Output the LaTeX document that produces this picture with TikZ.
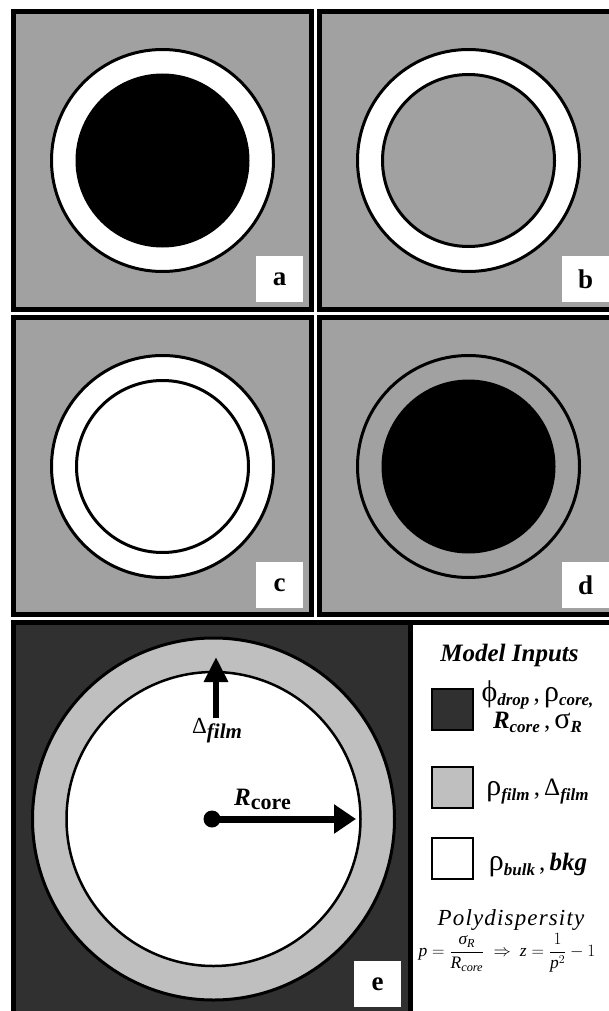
\documentclass[tikz,border=0pt]{standalone}
\usepackage{fontspec}
\usepackage{amsmath}
\setmainfont{Liberation Serif}
\usetikzlibrary{arrows.meta}
\definecolor{panelgray}{gray}{0.63}
\definecolor{filmgray}{gray}{0.75}
\definecolor{darkbg}{gray}{0.19}
% lowered bold-italic / bold subscript: size, drop, text
\newcommand{\sbi}[3]{\raisebox{-#2}{\fontsize{#1}{#1}\selectfont\bfseries\itshape #3}}
\newcommand{\sbf}[3]{\raisebox{-#2}{\fontsize{#1}{#1}\selectfont\bfseries #3}}
% enlarged greek symbol
\newcommand{\gk}[1]{{\fontsize{30}{30}\selectfont #1}}
\begin{document}
\begin{tikzpicture}[x=1pt,y=-1pt,
  panel/.style={draw=black, line width=5pt},
  ring/.style={circle, draw=black, line width=3pt, inner sep=0pt, minimum size=222pt},
  solidcore/.style={circle, inner sep=0pt, minimum size=174pt, fill=black},
  shellcore/.style={circle, draw=black, line width=3pt, inner sep=0pt, minimum size=172pt},
  tag/.style={fill=white, minimum width=47pt, minimum height=46pt, inner sep=0pt,
    font=\fontsize{27}{27}\selectfont\bfseries},
  swatch/.style={draw=black, line width=2pt, minimum size=41pt, inner sep=0pt},
  legendtxt/.style={inner sep=0pt, anchor=base, font=\fontsize{25}{25}\selectfont}
]
\useasboundingbox (0,0) rectangle (609,1011);
\clip (0,0) rectangle (609,1011);

% panel a: dark core, white shell
\draw[panel, fill=panelgray] (13.5,11.5) rectangle (311.5,309.5);
\node[ring, fill=white] (ringA) at (162.5,160.5) {};
\node[solidcore] (coreA) at (ringA) {};
\node[tag] (tagA) at (279.5,279) {a};

% panel b: matched core, white shell
\draw[panel, fill=panelgray] (319.5,11.5) rectangle (617.5,309.5);
\node[ring, fill=white] (ringB) at (468.5,160.5) {};
\node[shellcore, fill=panelgray] (coreB) at (ringB) {};
\node[tag] (tagB) at (585.5,279) {b};

% panel c: white core, white shell
\draw[panel, fill=panelgray] (13.5,317.5) rectangle (311.5,614.5);
\node[ring, fill=white] (ringC) at (162.5,466.5) {};
\node[shellcore, fill=white] (coreC) at (ringC) {};
\node[tag] (tagC) at (279.5,585) {c};

% panel d: dark core, matched shell
\draw[panel, fill=panelgray] (319.5,317.5) rectangle (617.5,614.5);
\node[ring, fill=panelgray] (ringD) at (468.5,466.5) {};
\node[solidcore] (coreD) at (ringD) {};
\node[tag] (tagD) at (585.5,585) {d};

% panel e: model geometry
\draw[panel, fill=darkbg] (13.5,622.5) rectangle (410.5,1030);
\draw[panel, fill=white] (410.5,622.5) rectangle (640,1030);
\node[circle, draw=black, line width=3pt, inner sep=0pt, minimum size=362pt, fill=filmgray]
  (ringE) at (213.5,819) {};
\node[circle, draw=black, line width=2.5pt, inner sep=0pt, minimum size=294pt, fill=white]
  (coreE) at (ringE) {};
\node[circle, fill=black, inner sep=0pt, minimum size=17pt] (ctr) at (212,819) {};
\coordinate (rtip) at (356,819);
\draw[line width=7pt, -{Triangle[length=22pt,width=28pt]}] (ctr.center) -- (rtip);
\coordinate (dbase) at (216,718);
\coordinate (dtip) at (216,657);
\draw[line width=6pt, -{Triangle[length=25pt,width=23pt]}] (dbase) -- (dtip);
\node[inner sep=0pt, anchor=base west, font=\fontsize{23}{23}\selectfont] (dlab) at (192,733)
  {Δ\sbi{21}{5pt}{film}};
\node[inner sep=0pt, anchor=base west, font=\fontsize{25}{25}\selectfont] (rlab) at (234,805)
  {\textbf{\textit{R}}\sbf{22}{4pt}{core}};
\node[tag] (tagE) at (377.5,984) {e};

% legend
\node[inner sep=0pt, anchor=base, font=\fontsize{25}{25}\selectfont\bfseries\itshape] (title) at (509.5,661)
  {Model Inputs};
\node[swatch, fill=darkbg] (sw1) at (452.5,709) {};
\node[swatch, fill=filmgray] (sw2) at (452.5,787) {};
\node[swatch, fill=white] (sw3) at (452.5,858.5) {};
\node[legendtxt] (txt1a) at (537.5,701) {\gk{ϕ}\sbi{17}{4pt}{drop}\,,\,\gk{ρ}\sbi{17}{4pt}{core,}};
\node[legendtxt] (txt1b) at (537.5,728) {\textbf{\textit{R}}\sbi{17}{4pt}{core}\,,\,\gk{σ}\sbi{17}{4pt}{R}};
\node[legendtxt] (txt2) at (537.5,795) {\gk{ρ}\sbi{17}{5pt}{film}\,,\,Δ\sbi{17}{5pt}{film}};
\node[legendtxt] (txt3) at (538,870) {\gk{ρ}\sbi{17}{5pt}{bulk}\,,\,\textbf{\textit{bkg}}};
\node[inner sep=0pt, anchor=base, font=\fontsize{23}{23}\selectfont\itshape\addfontfeature{LetterSpace=5}] (poly) at (511,925)
  {Polydispersity};
\node[inner sep=0pt, font=\fontsize{17.5}{17.5}\selectfont] (formula) at (507,953)
  {$\textit{p} = \dfrac{\textit{σ}_{\textit{R}}}{\textit{R}_{\textit{core}}}
   \ \Rightarrow\ \textit{z} = \dfrac{1}{\textit{p}^{2}} - 1$};
\end{tikzpicture}
\end{document}
